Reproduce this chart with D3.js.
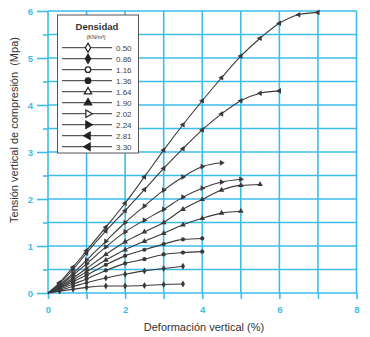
<!DOCTYPE html>
<html>
<head>
<meta charset="utf-8">
<script src="https://cdn.jsdelivr.net/npm/d3@7"></script>
<style>
  body { margin: 0; background: #fff; }
  svg { display: block; font-family: "Liberation Sans", Arial, sans-serif; }
</style>
</head>
<body>
<div id="container"></div>
<script>
// densities (kN/m3), top-down order in legend
const densities = ['0.50', '0.86', '1.16', '1.36', '1.64', '1.90', '2.02', '2.24', '2.81', '3.30']

// deformation (%) sample points
const strain = [0, 0.3, 0.65, 1, 1.5, 2, 2.5, 3, 3.5, 4, 4.5, 5, 5.5, 6, 6.5, 7]

// stress (MPa) for each density
const s050 = [0, 0.04, 0.08, 0.12, 0.15, 0.15, 0.16, 0.18, 0.19]
const s086 = [0, 0.06, 0.14, 0.22, 0.32, 0.40, 0.47, 0.52, 0.57]
const s116 = [0, 0.08, 0.19, 0.30, 0.48, 0.63, 0.72, 0.82, 0.86, 0.88]
const s136 = [0, 0.10, 0.24, 0.38, 0.60, 0.79, 0.92, 1.04, 1.14, 1.16]
const s164 = [0, 0.11, 0.28, 0.45, 0.70, 0.92, 1.10, 1.27, 1.45, 1.59, 1.70, 1.74]
const s190 = [0, 0.13, 0.32, 0.52, 0.82, 1.09, 1.30, 1.50, 1.78, 1.99, 2.19, 2.29, 2.31]
const s202 = [0, 0.15, 0.38, 0.62, 0.98, 1.30, 1.55, 1.78, 2.04, 2.23, 2.36, 2.42]
const s224 = [0, 0.17, 0.42, 0.70, 1.10, 1.50, 1.85, 2.19, 2.47, 2.69, 2.77]
const s281 = [0, 0.20, 0.50, 0.85, 1.32, 1.75, 2.20, 2.65, 3.07, 3.47, 3.81, 4.09, 4.25, 4.30]
const s330 = [0, 0.22, 0.55, 0.90, 1.40, 1.91, 2.47, 3.04, 3.58, 4.09, 4.58, 5.04, 5.42, 5.74, 5.92, 5.97]

const seriesValues = [s050, s086, s116, s136, s164, s190, s202, s224, s281, s330]

const xTicks = [0, 2, 4, 6, 8]
const yTicks = [0, 1, 2, 3, 4, 5, 6]

const width = 370
const height = 337
const blue = '#3dbde9'
const ink = '#3a3a3a'

const x = d3.scaleLinear().domain([0, 8]).range([48, 356.5])
const y = d3.scaleLinear().domain([0, 6]).range([293, 11])

// marker shape per density
const shapes = [
    {type: d3.symbolDiamond, fill: false, rot: 0},
    {type: d3.symbolDiamond, fill: true, rot: 0},
    {type: d3.symbolCircle, fill: false, rot: 0},
    {type: d3.symbolCircle, fill: true, rot: 0},
    {type: d3.symbolTriangle, fill: false, rot: 0},
    {type: d3.symbolTriangle, fill: true, rot: 0},
    {type: d3.symbolTriangle, fill: false, rot: 90},
    {type: d3.symbolTriangle, fill: true, rot: 90},
    {type: d3.symbolTriangle, fill: true, rot: -90},
    {type: d3.symbolTriangle, fill: true, rot: -90},
]

const svg = d3.select('#container').append('svg')
    .attr('width', width)
    .attr('height', height)

// grid
svg.append('g').selectAll('line')
    .data(d3.range(0, 8.01, 1))
    .enter().append('line')
    .attr('x1', d => x(d)).attr('x2', d => x(d))
    .attr('y1', y(6)).attr('y2', y(0))
    .attr('stroke', blue).attr('stroke-width', 1.6)

svg.append('g').selectAll('line')
    .data(d3.range(0, 6.01, 0.5))
    .enter().append('line')
    .attr('x1', x(0)).attr('x2', x(8))
    .attr('y1', d => y(d)).attr('y2', d => y(d))
    .attr('stroke', blue).attr('stroke-width', 1.6)

// axes
const xAxis = d3.axisBottom(x).tickValues(d3.range(0, 8.01, 1))
    .tickSize(6).tickFormat(d => xTicks.includes(d) ? d : '')
const yAxis = d3.axisLeft(y).tickValues(d3.range(0, 6.01, 0.5))
    .tickSize(6).tickFormat(d => yTicks.includes(d) ? d : '')

const gx = svg.append('g')
    .attr('transform', `translate(0, ${y(0)})`)
    .call(xAxis)
const gy = svg.append('g')
    .attr('transform', `translate(${x(0)}, 0)`)
    .call(yAxis)

gy.selectAll('.tick line')
    .attr('x2', d => yTicks.includes(d) ? -11 : -5)

for (const g of [gx, gy]) {
    g.select('.domain').remove()
    g.selectAll('.tick line').attr('stroke', blue).attr('stroke-width', 1.6)
    g.selectAll('.tick text')
        .attr('fill', blue)
        .attr('font-size', 9.5)
        .attr('font-weight', 'bold')
}
gy.selectAll('.tick text').attr('x', -15)
gx.selectAll('.tick text').attr('y', 13)

// curves
const line = d3.line()
    .x(d => x(d[0]))
    .y(d => y(d[1]))
    .curve(d3.curveMonotoneX)

seriesValues.forEach((vals, i) => {
    const pts = vals.map((v, j) => [strain[j], v])
    svg.append('path')
        .datum(pts)
        .attr('d', line)
        .attr('fill', 'none')
        .attr('stroke', ink)
        .attr('stroke-width', 1.1)

    const sh = shapes[i]
    svg.append('g').selectAll('path')
        .data(pts.slice(1))
        .enter().append('path')
        .attr('d', d3.symbol().type(sh.type).size(14))
        .attr('transform', d => `translate(${x(d[0])},${y(d[1])}) rotate(${sh.rot})`)
        .attr('fill', ink)
})

// legend
const lg = svg.append('g')
lg.append('rect')
    .attr('x', 57.5).attr('y', 15)
    .attr('width', 81).attr('height', 138)
    .attr('fill', '#fff')
    .attr('stroke', '#555').attr('stroke-width', 1)
lg.append('text')
    .attr('x', 97).attr('y', 30)
    .attr('text-anchor', 'middle')
    .attr('font-size', 9.5).attr('font-weight', 'bold')
    .attr('fill', '#333')
    .text('Densidad')
lg.append('text')
    .attr('x', 96).attr('y', 39)
    .attr('text-anchor', 'middle')
    .attr('font-size', 5.5)
    .attr('fill', '#333')
    .text('(KN/m³)')

densities.forEach((d, i) => {
    const ry = 47.7 + i * 11
    lg.append('line')
        .attr('x1', 62).attr('x2', 112)
        .attr('y1', ry).attr('y2', ry)
        .attr('stroke', '#333').attr('stroke-width', 1)
    const sh = shapes[i]
    lg.append('path')
        .attr('d', d3.symbol().type(sh.type).size(24))
        .attr('transform', `translate(88,${ry}) rotate(${sh.rot})`)
        .attr('fill', sh.fill ? '#222' : '#fff')
        .attr('stroke', '#222').attr('stroke-width', 1.2)
    lg.append('text')
        .attr('x', 116).attr('y', ry + 3)
        .attr('font-size', 8)
        .attr('fill', '#444')
        .text(d)
})

// axis titles
svg.append('text')
    .attr('x', 204).attr('y', 331)
    .attr('text-anchor', 'middle')
    .attr('font-size', 11)
    .attr('fill', '#333')
    .text('Deformación vertical (%)')

svg.append('text')
    .attr('transform', 'translate(18, 130) rotate(-90)')
    .attr('text-anchor', 'middle')
    .attr('font-size', 11)
    .attr('fill', '#333')
    .style('white-space', 'pre')
    .text('Tensión vertical de compresión  (Mpa)')
</script>
</body>
</html>
